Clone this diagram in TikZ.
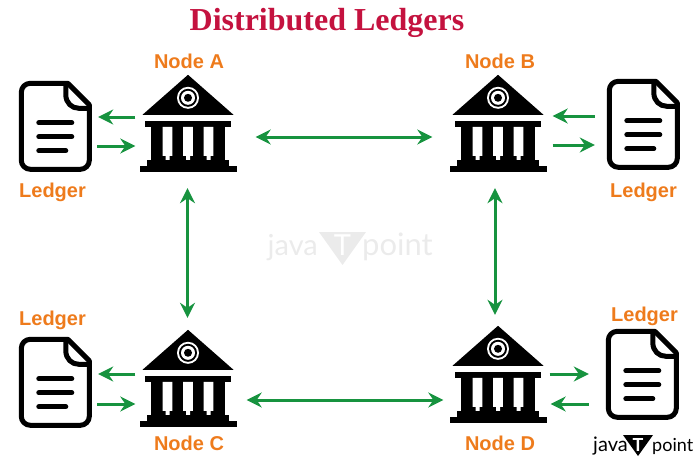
\documentclass[tikz,border=0pt]{standalone}
\usepackage{fontspec}
\setmainfont{Liberation Sans}
\newfontfamily\titlefont{Liberation Serif}
\newfontfamily\logofont{Lato}
\usepackage{tikz}
\usetikzlibrary{positioning,%
  arrows.meta,%
  calc
}
\definecolor{ledgerorange}{HTML}{EE7B1C}
\definecolor{flowgreen}{HTML}{17933F}
\definecolor{titlered}{HTML}{C4123F}
\tikzset{
  bankbox/.style={minimum width=97pt,minimum height=97pt,inner sep=0pt},
  docbox/.style={minimum width=73pt,minimum height=91pt,inner sep=0pt},
  lbl/.style={text=ledgerorange,font=\bfseries\fontsize{20}{22}\selectfont,inner sep=0pt},
  flow/.style={draw=flowgreen,line width=3pt,-{Stealth[length=15pt,width=15pt,inset=5pt]}},
  flowboth/.style={flow,{Stealth[length=15pt,width=15pt,inset=5pt]}-{Stealth[length=15pt,width=15pt,inset=5pt]}},
  % drawn from the middle of the top edge
  bankicon/.pic={
    \fill (0,0) -- (45.5,40) -- (-45.5,40) -- cycle;
    \fill (-43,46) rectangle (43,52);
    \fill (-37,52) rectangle (37,86);
    \fill (-41,85) rectangle (41,91);
    \fill (-48.5,91) rectangle (48.5,97);
    \foreach \gapx in {-20.5,0,20.5}
      \fill[white] (\gapx-4.8,52) -- (\gapx+4.8,52) -- (\gapx+4.8,81) -- (\gapx+2,81) -- (\gapx+2,85) -- (\gapx-2,85) -- (\gapx-2,81) -- (\gapx-4.8,81) -- cycle;
    \fill[white] (0,23) circle (11);
    \fill (0,23) circle (9);
    \fill[white] (0,23) circle (7);
    \fill (0,23) circle (4);
  },
  % drawn from the top left corner
  docicon/.pic={
    \draw[line width=5pt,line join=round,rounded corners=9pt] (25,2.5) -- (2.5,2.5) -- (2.5,88.5) -- (70.5,88.5) -- (70.5,40) [sharp corners] -- (70.5,24) -- (49,2.5) -- cycle;
    \draw[line width=5pt,line join=round] (47,2.5) -- (47,14) .. controls (47,22) and (53,27.5) .. (60,27.5) -- (70.5,27.5);
    \draw[line width=5pt,line cap=round] (20,42) -- (53,42);
    \draw[line width=5pt,line cap=round] (20,56) -- (53,56);
    \draw[line width=5pt,line cap=round] (20,70) -- (47,70);
  }
}
\begin{document}
\begin{tikzpicture}[x=1pt,y=-1pt]
  \useasboundingbox (0,0) rectangle (700,463);

  \node[text=titlered,font=\titlefont\bfseries\fontsize{32}{34}\selectfont,inner sep=0pt] (title) at (327,23) {Distributed Ledgers};

  % watermark
  \fill[black!8] (319,232) -- (366,232) -- (342.5,265) -- cycle;
  \node[text=black!8,font=\logofont\fontsize{29}{30}\selectfont,inner sep=0pt,anchor=base east] (wmjava) at (318,255) {java};
  \node[text=black!8,font=\logofont\fontsize{31}{32}\selectfont,inner sep=0pt,anchor=base west] (wmpoint) at (362,255) {point};
  \node[text=white,font=\logofont\fontsize{29}{30}\selectfont,inner sep=0pt,anchor=base] (wmt) at (342.5,255) {T};

  % banks
  \node[bankbox] (bankA) at (188,123.5) {};
  \node[bankbox] (bankB) at (498,123.5) {};
  \node[bankbox] (bankC) at (188,378.5) {};
  \node[bankbox] (bankD) at (498,374.5) {};
  \pic at (bankA.north) {bankicon};
  \pic at (bankB.north) {bankicon};
  \pic at (bankC.north) {bankicon};
  \pic at (bankD.north) {bankicon};

  % ledgers
  \node[docbox] (docA) at (55.5,126.5) {};
  \node[docbox] (docB) at (643.5,124.5) {};
  \node[docbox] (docC) at (55.5,382.5) {};
  \node[docbox] (docD) at (642.5,374.5) {};
  \pic at (docA.north west) {docicon};
  \pic at (docB.north west) {docicon};
  \pic at (docC.north west) {docicon};
  \pic at (docD.north west) {docicon};

  % labels
  \node[lbl] (lblA) at (189,61) {Node A};
  \node[lbl] (lblB) at (500,61) {Node B};
  \node[lbl] (lblC) at (189,443) {Node C};
  \node[lbl] (lblD) at (500,443) {Node D};
  \node[lbl,below=11pt of docA,xshift=-3pt] (ledgerA) {Ledger};
  \node[lbl,below=13pt of docB] (ledgerB) {Ledger};
  \node[lbl,above=7pt of docC,xshift=-3pt] (ledgerC) {Ledger};
  \node[lbl,above=3pt of docD,xshift=2pt] (ledgerD) {Ledger};

  % between banks
  \draw[flowboth,shorten <=19pt,shorten >=17pt] ([yshift=-13.5pt]bankA.east) -- ([yshift=-13.5pt]bankB.west);
  \draw[flowboth,shorten <=10pt,shorten >=6pt] ([yshift=-21.5pt]bankC.east) -- ([yshift=-25.5pt]bankD.west);
  \draw[flowboth,shorten <=16pt,shorten >=12pt] ([xshift=-.5pt]bankA.south) -- ([xshift=-.5pt]bankC.north);
  \draw[flowboth,shorten <=16pt,shorten >=11pt] ([xshift=-3pt]bankB.south) -- ([xshift=-3pt]bankD.north);

  % between banks and ledgers
  \draw[flow,shorten <=4pt,shorten >=6pt] ([yshift=6.5pt]bankA.west) -- ([yshift=9.5pt]docA.east);
  \draw[flow,shorten <=5pt,shorten >=4pt] ([yshift=-19.5pt]docA.east) -- ([yshift=-22.5pt]bankA.west);
  \draw[flow,shorten <=12pt,shorten >=6pt] ([yshift=8.5pt]docB.west) -- ([yshift=7.5pt]bankB.east);
  \draw[flow,shorten <=6pt,shorten >=12pt] ([yshift=-21.5pt]bankB.east) -- ([yshift=-20.5pt]docB.west);
  \draw[flow,shorten <=4pt,shorten >=6pt] ([yshift=4.5pt]bankC.west) -- ([yshift=8.5pt]docC.east);
  \draw[flow,shorten <=5pt,shorten >=4pt] ([yshift=-21.5pt]docC.east) -- ([yshift=-25.5pt]bankC.west);
  \draw[flow,shorten <=3pt,shorten >=17pt] ([yshift=.5pt]bankD.east) -- ([yshift=.5pt]docD.west);
  \draw[flow,shorten <=17pt,shorten >=4pt] ([yshift=-29.5pt]docD.west) -- ([yshift=-29.5pt]bankD.east);

  % logo
  \fill (623,435) -- (653,435) -- (638,456) -- cycle;
  \node[font=\logofont\fontsize{20}{22}\selectfont,inner sep=0pt,anchor=base east] (logojava) at (628,451) {java};
  \node[font=\logofont\fontsize{18}{20}\selectfont,inner sep=0pt,anchor=base west] (logopoint) at (652,451) {point};
  \node[text=white,font=\logofont\bfseries\fontsize{18}{20}\selectfont,inner sep=0pt,anchor=base] (logot) at (638,451) {T};
\end{tikzpicture}
\end{document}
